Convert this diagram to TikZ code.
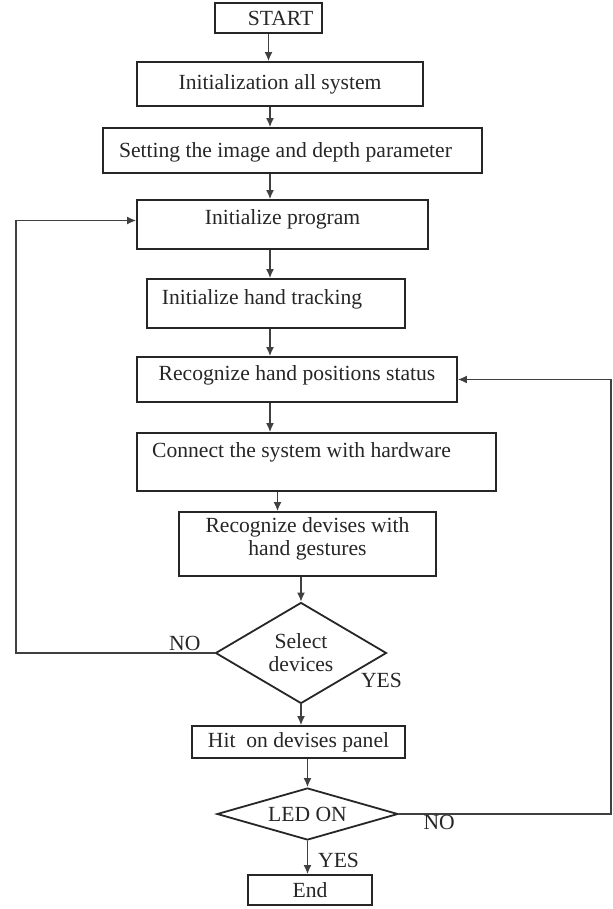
\documentclass[tikz,border=0pt]{standalone}
\usepackage{fontspec}
\setmainfont{Liberation Serif}
\usetikzlibrary{math,positioning,shapes.geometric,arrows.meta}

\newcommand{\boxtext}[3]{\hspace*{#1}\raisebox{#2}[\height][\depth]{#3}\hspace*{-#1}}

\begin{document}
\begin{tikzpicture}[x=0.5pt, y=-0.5pt,
    box/.style={draw=black!85, line width=0.9pt, rectangle, inner sep=0pt,
        font=\fontsize{10.8}{11.5}\selectfont, text=black!85},
    decision/.style={draw=black!85, line width=0.9pt, diamond, aspect=1.7, inner sep=0pt,
        align=center, font=\fontsize{10.8}{11.5}\selectfont, text=black!85},
    arr/.style={draw=black!75, line width=0.7pt, -{Latex[length=4.5pt,width=4pt]}},
    lbl/.style={font=\fontsize{10.8}{11.5}\selectfont, text=black!85, inner sep=1pt}]
    \useasboundingbox (0,0) rectangle (613,909);
    \tikzmath{
        \xCol = 270;
        \xLoopL = 16;
        \xLoopR = 611;
    }
    \coordinate (col) at (\xCol,0);
    \coordinate (loopL) at (\xLoopL,0);
    \coordinate (loopR) at (\xLoopR,0);
%
    \node[box, minimum width=53.5pt, minimum height=15pt] (start) at (268.5,18) {\boxtext{6pt}{0pt}{START}};
    \node[box, minimum width=143pt, minimum height=22pt] (initsys) at (280,84) {Initialization all system};
    \node[box, minimum width=189.5pt, minimum height=22.5pt] (setting) at (292.5,150.5) {\boxtext{-3.5pt}{-1pt}{Setting the image and depth parameter}};
    \node[box, minimum width=145.5pt, minimum height=24.5pt] (initprog) at (282.5,224.5) {\boxtext{0pt}{2.5pt}{Initialize program}};
    \node[box, minimum width=129pt, minimum height=24.5pt] (tracking) at (276,303.5) {\boxtext{-7pt}{2pt}{Initialize hand tracking}};
    \node[box, minimum width=160pt, minimum height=22.5pt] (handpos) at (297,379.5) {\boxtext{0pt}{2pt}{Recognize hand positions status}};
    \node[box, minimum width=179.5pt, minimum height=29pt] (connect) at (316.5,462) {\boxtext{-7.5pt}{5pt}{Connect the system with hardware}};
    \node[box, minimum width=128.5pt, minimum height=32pt] (devises) at (307.5,544)
        {\boxtext{0pt}{2.5pt}{\begin{tabular}{@{}c@{}}Recognize devises with\\hand gestures\end{tabular}}};
    \node[decision, minimum width=85.5pt, minimum height=50.5pt] (select) at (301,653) {Select\\devices};
    \node[box, minimum width=106.5pt, minimum height=16pt] (hit) at (298.5,742) {Hit~ on devises panel};
    \node[decision, aspect=3.5, minimum width=90.5pt, minimum height=26pt] (led) at (307.5,814) {LED ON};
    \node[box, minimum width=62pt, minimum height=15pt] (end) at (310,890) {End};
%
    \draw[arr] (start) -- (start |- initsys.north);
    \draw[arr] (initsys.south -| col) -- (setting.north -| col);
    \draw[arr] (setting.south -| col) -- (initprog.north -| col);
    \draw[arr] (initprog.south -| col) -- (tracking.north -| col);
    \draw[arr] (tracking.south -| col) -- (handpos.north -| col);
    \draw[arr] (handpos.south -| col) -- (connect.north -| col);
    \draw[arr] ([xshift=-15pt]devises.north |- connect.south) -- ([xshift=-15pt]devises.north);
    \draw[arr] (select.north |- devises.south) -- (select.north);
    \draw[arr] (select.south) -- (select.south |- hit.north);
    \draw[arr] (led.north |- hit.south) -- (led.north);
    \draw[arr] (led.south) -- node[lbl, right=4pt, pos=0.6] {YES} (led.south |- end.north);
%
    \node[lbl, below=9pt of select.east, xshift=-3pt] (selyes) {YES};
    \draw[arr] (select.west) -- node[lbl, above, pos=0.15] {NO} (select.west -| loopL)
        |- ([yshift=2pt]initprog.west);
    \draw[arr] (led.east) -- node[lbl, below=-1pt, pos=0.19] {NO} (led.east -| loopR)
        |- (handpos.east);
\end{tikzpicture}
\end{document}
